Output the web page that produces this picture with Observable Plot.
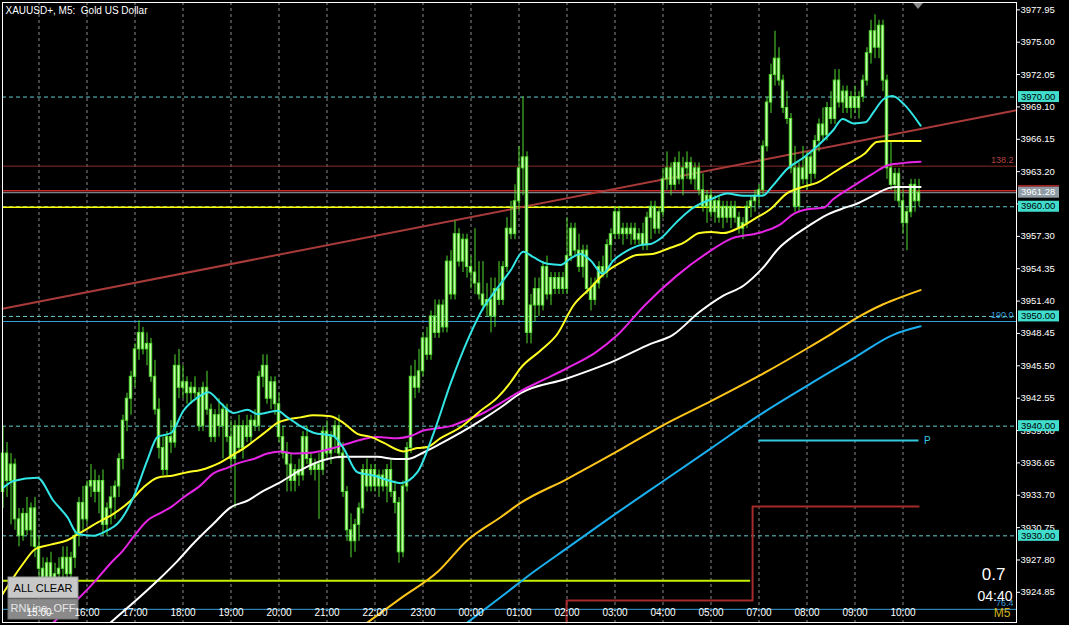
<!DOCTYPE html>
<html><head><meta charset="utf-8">
<script src="https://cdn.jsdelivr.net/npm/d3@7"></script>
<script src="https://cdn.jsdelivr.net/npm/@observablehq/plot@0.6"></script>
<style>
html,body{margin:0;padding:0;background:#000;}
#wrap{position:relative;width:1069px;height:625px;overflow:hidden;background:#000;}
svg text{white-space:pre;}
</style></head><body><div id="wrap"></div>
<script>
// ---------- DATA ----------
const title = "XAUUSD+, M5:  Gold US Dollar";
const firstBar = -9; // bar index of first candle (0 = 15:00)
const opens = [3934.0,3937.5,3935.0,3936.5,3931.5,3930.0,3932.0,3930.5,3932.5,3929.0,3927.0,3926.0,3927.5,3926.0,3926.5,3927.0,3928.0,3926.5,3928.0,3930.0,3933.0,3931.5,3934.5,3935.0,3934.0,3935.0,3931.0,3932.5,3933.5,3934.5,3937.0,3940.5,3942.5,3944.5,3947.0,3948.5,3947.0,3947.5,3944.5,3941.5,3938.0,3936.0,3939.0,3938.5,3945.5,3943.5,3944.0,3943.0,3943.5,3943.0,3940.0,3943.5,3941.5,3939.0,3941.0,3940.0,3941.5,3939.0,3937.0,3940.0,3938.0,3940.0,3939.0,3940.5,3940.0,3944.5,3945.5,3942.5,3944.0,3942.0,3939.0,3937.5,3936.5,3935.0,3936.0,3935.5,3939.0,3937.0,3936.0,3936.5,3936.0,3939.5,3937.5,3939.0,3940.0,3937.5,3934.0,3930.5,3929.5,3931.0,3932.5,3936.0,3934.5,3936.0,3934.5,3935.5,3934.5,3936.0,3934.0,3933.0,3928.5,3934.5,3938.0,3944.5,3943.5,3945.0,3948.0,3946.5,3950.0,3948.5,3951.0,3949.0,3955.0,3952.0,3957.5,3955.0,3957.0,3954.5,3954.0,3953.0,3952.0,3951.0,3951.5,3950.0,3952.5,3951.5,3954.5,3958.0,3957.5,3960.5,3963.5,3964.5,3948.5,3951.0,3952.5,3951.0,3954.5,3952.0,3953.5,3952.5,3953.5,3952.5,3955.5,3958.0,3956.0,3954.5,3956.0,3952.5,3951.5,3953.0,3954.5,3954.0,3956.5,3957.5,3959.5,3957.5,3958.0,3957.5,3958.0,3957.0,3957.5,3956.5,3959.0,3960.0,3958.0,3959.5,3962.5,3963.5,3962.0,3964.0,3962.5,3963.5,3964.0,3962.5,3963.5,3961.5,3960.0,3961.0,3959.5,3960.5,3959.0,3960.0,3959.0,3960.0,3959.0,3958.0,3958.5,3960.0,3960.5,3961.0,3961.5,3965.5,3969.5,3972.0,3973.5,3971.5,3969.0,3968.0,3963.5,3960.0,3963.5,3962.5,3964.5,3963.0,3966.0,3967.5,3966.5,3969.0,3968.0,3971.5,3969.5,3970.5,3969.0,3970.0,3969.0,3970.0,3971.5,3974.0,3976.0,3974.5,3976.5,3971.5,3963.5,3962.0,3963.0,3960.5,3958.5,3959.5,3962.0,3960.5];
const highs = [3940.0,3938.5,3937.5,3937.0,3932.5,3932.5,3933.5,3933.0,3933.5,3930.0,3928.0,3928.0,3928.5,3927.5,3928.0,3929.0,3929.0,3928.5,3930.5,3933.5,3934.5,3935.0,3936.5,3936.0,3935.5,3936.0,3933.0,3934.5,3935.0,3937.5,3941.0,3943.0,3945.0,3947.5,3949.6,3949.0,3948.5,3948.0,3946.0,3942.5,3939.0,3939.5,3940.5,3946.5,3947.0,3945.5,3944.5,3944.0,3944.5,3943.5,3944.0,3945.0,3942.0,3941.5,3942.5,3942.0,3942.0,3940.5,3940.5,3941.0,3940.5,3941.0,3941.0,3941.5,3945.0,3946.5,3946.5,3944.5,3944.5,3943.0,3940.0,3938.5,3937.5,3936.5,3937.0,3939.5,3940.0,3937.5,3937.0,3937.5,3940.0,3940.5,3939.5,3940.5,3941.0,3938.5,3934.5,3932.0,3931.5,3933.0,3936.5,3937.0,3936.5,3936.5,3936.0,3936.0,3936.5,3937.0,3935.0,3933.5,3935.0,3938.5,3945.5,3946.0,3947.0,3948.5,3949.0,3950.5,3951.5,3951.5,3951.5,3955.5,3956.0,3958.7,3958.0,3957.5,3957.5,3955.5,3958.0,3955.0,3955.0,3953.0,3953.5,3953.5,3955.0,3955.0,3959.0,3960.5,3962.0,3965.5,3970.0,3965.0,3952.0,3953.5,3953.5,3955.0,3955.5,3954.0,3954.0,3954.0,3954.0,3959.0,3958.5,3958.5,3957.5,3956.5,3956.5,3953.5,3953.5,3955.0,3955.5,3957.0,3958.0,3960.0,3960.0,3958.5,3958.5,3958.5,3958.5,3958.0,3958.5,3959.5,3960.5,3960.5,3960.0,3963.5,3965.0,3964.0,3964.5,3965.0,3964.5,3965.0,3964.5,3964.0,3964.0,3963.0,3961.5,3961.5,3961.0,3961.0,3960.5,3960.5,3960.5,3960.5,3959.5,3959.0,3960.5,3961.0,3961.5,3962.0,3966.0,3970.0,3973.0,3976.0,3974.5,3972.0,3970.5,3968.5,3965.5,3964.0,3965.5,3965.0,3965.0,3966.5,3968.0,3969.0,3969.5,3970.5,3972.5,3972.5,3971.0,3971.0,3970.5,3971.0,3970.5,3972.0,3974.5,3977.0,3977.5,3977.0,3977.0,3972.0,3966.0,3963.5,3963.5,3961.5,3960.0,3962.5,3962.5,3962.5];
const lows = [3932.5,3933.5,3931.0,3930.5,3929.0,3929.5,3930.0,3929.0,3928.0,3926.0,3925.5,3925.0,3925.5,3924.5,3925.5,3926.0,3925.0,3925.5,3927.0,3929.0,3930.5,3931.0,3933.5,3933.0,3932.0,3930.0,3930.0,3931.0,3931.5,3933.5,3936.0,3939.5,3941.0,3943.5,3946.0,3946.5,3945.5,3944.0,3941.0,3937.0,3935.5,3935.5,3937.5,3938.0,3942.5,3942.5,3942.0,3942.0,3942.5,3939.5,3939.5,3941.0,3938.5,3938.5,3939.0,3937.0,3938.5,3936.0,3932.5,3937.5,3937.0,3938.5,3938.5,3939.5,3939.5,3943.5,3942.0,3941.5,3941.0,3938.5,3937.0,3934.0,3934.0,3934.0,3934.5,3935.0,3936.5,3935.5,3935.0,3931.5,3935.5,3937.0,3936.5,3937.5,3937.0,3933.5,3929.5,3928.0,3928.5,3929.5,3932.0,3934.0,3934.0,3934.0,3933.5,3934.0,3933.0,3933.5,3932.0,3927.5,3928.0,3934.0,3937.5,3942.5,3943.0,3944.5,3946.0,3946.0,3948.0,3948.0,3948.5,3948.5,3951.5,3951.5,3954.5,3954.0,3953.5,3952.5,3952.0,3951.5,3950.5,3950.0,3948.5,3949.0,3951.0,3951.0,3954.0,3957.0,3957.0,3959.5,3961.0,3947.5,3947.5,3949.5,3950.0,3950.5,3951.5,3951.0,3952.0,3952.0,3952.0,3952.0,3955.0,3955.5,3954.0,3953.5,3952.0,3950.5,3951.0,3952.5,3953.5,3953.5,3955.0,3957.0,3957.0,3956.5,3957.0,3956.5,3956.5,3956.5,3956.0,3956.0,3957.0,3957.5,3957.5,3959.0,3961.5,3961.0,3961.5,3962.0,3961.0,3962.5,3962.0,3961.5,3961.0,3959.5,3958.5,3959.0,3958.5,3958.5,3958.0,3958.5,3958.0,3958.5,3957.5,3957.0,3958.0,3959.0,3959.5,3960.0,3961.0,3965.0,3968.5,3971.0,3971.0,3968.5,3967.5,3963.0,3959.5,3959.5,3962.0,3961.5,3962.0,3962.5,3965.0,3966.0,3966.0,3967.5,3967.5,3969.0,3968.5,3968.5,3968.0,3968.5,3968.0,3969.5,3971.0,3973.0,3973.5,3973.5,3970.5,3962.5,3961.5,3960.5,3960.0,3957.5,3956.0,3959.0,3959.5,3960.0];
const closes = [3937.5,3935.0,3936.5,3931.5,3930.0,3932.0,3930.5,3932.5,3929.0,3927.0,3926.0,3927.5,3926.0,3926.5,3927.0,3928.0,3926.5,3928.0,3930.0,3933.0,3931.5,3934.5,3935.0,3934.0,3935.0,3931.0,3932.5,3933.5,3934.5,3937.0,3940.5,3942.5,3944.5,3947.0,3948.5,3947.0,3947.5,3944.5,3941.5,3938.0,3936.0,3939.0,3938.5,3945.5,3943.5,3944.0,3943.0,3943.5,3943.0,3940.0,3943.5,3941.5,3939.0,3941.0,3940.0,3941.5,3939.0,3937.0,3940.0,3938.0,3940.0,3939.0,3940.5,3940.0,3944.5,3945.5,3942.5,3944.0,3942.0,3939.0,3937.5,3936.5,3935.0,3936.0,3935.5,3939.0,3937.0,3936.0,3936.5,3936.0,3939.5,3937.5,3939.0,3940.0,3937.5,3934.0,3930.5,3929.5,3931.0,3932.5,3936.0,3934.5,3936.0,3934.5,3935.5,3934.5,3936.0,3934.0,3933.0,3928.5,3934.5,3938.0,3944.5,3943.5,3945.0,3948.0,3946.5,3950.0,3948.5,3951.0,3949.0,3955.0,3952.0,3957.5,3955.0,3957.0,3954.5,3954.0,3953.0,3952.0,3951.0,3951.5,3950.0,3952.5,3951.5,3954.5,3958.0,3957.5,3960.5,3963.5,3964.5,3948.5,3951.0,3952.5,3951.0,3954.5,3952.0,3953.5,3952.5,3953.5,3952.5,3955.5,3958.0,3956.0,3954.5,3956.0,3952.5,3951.5,3953.0,3954.5,3954.0,3956.5,3957.5,3959.5,3957.5,3958.0,3957.5,3958.0,3957.0,3957.5,3956.5,3959.0,3960.0,3958.0,3959.5,3962.5,3963.5,3962.0,3964.0,3962.5,3963.5,3964.0,3962.5,3963.5,3961.5,3960.0,3961.0,3959.5,3960.5,3959.0,3960.0,3959.0,3960.0,3959.0,3958.0,3958.5,3960.0,3960.5,3961.0,3961.5,3965.5,3969.5,3972.0,3973.5,3971.5,3969.0,3968.0,3963.5,3960.0,3963.5,3962.5,3964.5,3963.0,3966.0,3967.5,3966.5,3969.0,3968.0,3971.5,3969.5,3970.5,3969.0,3970.0,3969.0,3970.0,3971.5,3974.0,3976.0,3974.5,3976.5,3971.5,3963.5,3962.0,3963.0,3960.5,3958.5,3959.5,3962.0,3960.5,3961.3];

// moving averages: [bar index, price]
const maCyan = [[-8.9,3934.4],[-6.4,3935.0],[-0.4,3935.3],[3.6,3933.2],[7.1,3931.7],[9.6,3930.2],[13.6,3930.0],[17.1,3930.5],[19.6,3931.1],[23.6,3933.5],[27.1,3936.9],[29.6,3939.0],[33.1,3939.4],[36.1,3941.4],[39.6,3942.6],[42.4,3943.1],[45.4,3942.1],[48.6,3941.2],[52.1,3941.5],[54.6,3941.1],[59.6,3941.4],[62.1,3940.8],[65.4,3940.0],[68.6,3939.4],[73.6,3939.1],[76.1,3938.0],[79.6,3935.8],[83.6,3935.5],[87.9,3935.0],[90.4,3934.8],[94.6,3935.8],[98.6,3939.3],[102.9,3943.9],[107.1,3947.8],[111.1,3950.8],[113.6,3952.1],[117.9,3954.2],[121.1,3955.9],[123.6,3955.4],[127.1,3954.8],[130.4,3954.7],[132.9,3955.3],[135.4,3955.7],[137.9,3955.1],[140.9,3953.9],[143.6,3955.1],[147.1,3956.0],[150.4,3956.5],[152.9,3956.6],[155.4,3957.1],[159.4,3958.6],[163.1,3959.8],[168.1,3960.7],[172.1,3961.2],[176.1,3961.0],[180.9,3961.0],[183.4,3961.9],[186.9,3963.4],[191.6,3964.6],[195.1,3965.7],[198.6,3967.0],[200.9,3968.0],[203.6,3967.6],[206.6,3967.7],[208.6,3968.6],[211.1,3969.8],[213.4,3970.1],[216.1,3969.4],[220.4,3967.4]];
const maYellow = [[-9.6,3924.4],[-6.4,3926.2],[-3.9,3927.5],[-0.9,3928.8],[2.9,3929.2],[7.1,3929.6],[10.4,3930.3],[14.6,3931.2],[18.6,3932.0],[22.9,3933.2],[26.1,3934.4],[29.6,3935.3],[33.6,3935.5],[37.1,3935.8],[40.4,3936.0],[42.9,3936.3],[45.4,3936.7],[48.6,3937.4],[52.1,3938.2],[54.6,3938.9],[57.1,3939.6],[59.6,3940.3],[62.1,3940.6],[65.4,3940.8],[68.6,3941.0],[72.9,3940.9],[76.1,3940.3],[79.6,3939.3],[83.1,3939.0],[86.1,3938.5],[91.1,3937.7],[94.6,3938.0],[97.1,3938.1],[100.4,3938.9],[105.4,3939.9],[110.4,3941.4],[114.6,3942.6],[117.9,3944.0],[120.4,3945.3],[125.4,3946.9],[129.6,3948.4],[133.6,3951.0],[137.6,3952.5],[141.6,3954.0],[145.4,3954.9],[149.4,3955.6],[153.4,3955.7],[157.4,3956.2],[161.1,3956.7],[165.1,3957.6],[168.1,3957.7],[171.1,3957.6],[175.1,3958.1],[178.9,3958.9],[182.9,3959.8],[186.9,3961.2],[190.9,3961.8],[194.6,3962.2],[198.6,3963.1],[202.6,3964.0],[206.6,3964.9],[209.4,3965.9],[212.4,3966.0],[220.4,3966.0]];
const maMagenta = [[3.6,3922.1],[14.1,3925.9],[17.9,3927.5],[21.1,3928.7],[23.6,3929.9],[27.1,3931.4],[30.4,3932.1],[32.9,3932.6],[36.1,3933.5],[40.4,3934.6],[43.6,3935.7],[47.1,3936.2],[50.4,3936.7],[53.6,3937.0],[57.1,3937.5],[60.4,3937.7],[63.6,3937.5],[68.6,3937.6],[73.6,3938.0],[77.1,3938.4],[82.1,3938.9],[84.6,3939.0],[89.6,3938.9],[92.9,3939.1],[96.1,3939.6],[99.6,3939.8],[102.9,3940.0],[107.1,3940.6],[111.1,3941.2],[115.4,3942.1],[120.4,3943.2],[126.6,3944.3],[132.1,3945.3],[139.1,3946.7],[144.6,3948.3],[151.4,3951.0],[159.4,3953.7],[167.1,3955.8],[173.1,3957.1],[179.9,3957.6],[184.9,3958.3],[188.9,3959.4],[192.6,3959.8],[196.1,3959.9],[198.6,3960.7],[203.6,3961.9],[208.4,3963.0],[212.4,3963.8],[216.4,3964.0],[220.4,3964.1]];
const maWhite = [[17.9,3922.1],[29.6,3925.9],[34.6,3927.7],[38.6,3929.3],[43.6,3931.1],[47.9,3932.6],[52.1,3933.2],[56.1,3934.1],[60.4,3934.9],[65.4,3936.0],[72.1,3937.0],[76.1,3937.2],[84.6,3937.2],[89.1,3937.0],[92.1,3937.0],[96.1,3937.6],[100.4,3938.4],[105.4,3939.4],[110.4,3940.5],[115.4,3941.7],[120.4,3943.0],[131.6,3944.3],[144.1,3946.0],[152.9,3947.5],[158.4,3948.3],[165.1,3950.4],[171.1,3951.9],[176.1,3952.8],[180.9,3954.4],[184.9,3956.2],[188.9,3957.4],[192.6,3958.3],[196.6,3959.2],[200.6,3959.8],[204.6,3960.3],[208.4,3961.0],[212.4,3961.7],[214.4,3961.8],[220.4,3961.8]];
const maGold = [[82.1,3922.1],[90.4,3924.3],[99.9,3926.8],[107.1,3929.6],[115.4,3931.7],[120.4,3933.0],[132.1,3935.2],[144.1,3937.6],[156.1,3940.1],[168.1,3942.3],[180.1,3944.6],[192.1,3947.1],[197.6,3948.3],[204.6,3949.9],[210.4,3951.0],[214.4,3951.6],[220.4,3952.4]];
const maBlue = [[107.1,3922.1],[115.4,3924.4],[123.6,3926.7],[132.1,3928.9],[144.1,3932.0],[156.1,3935.0],[168.1,3938.0],[180.1,3941.0],[192.1,3943.7],[204.1,3946.3],[213.4,3948.3],[220.4,3949.1]];

// objects on the chart
const roundLevels = [3970, 3960, 3950, 3940, 3930];
const trendLine = [[-9.125, 3950.7], [244.375, 3968.8]];
const fibLevel = 3963.7, fibText = "138.2";
const redLevel = 3961.45;
const bidPrice = 3961.28;
const yellowLevel = {y: 3959.95, x1: -9.125, x2: 177.9};
const limeLevel = {y: 3925.9, x1: -9.125, x2: 177.9};
const blueLevels = [{y: 3949.54, label: "190.0"}, {y: 3923.3, label: "76.4"}];
const pLevel = {y: 3938.7, x1: 180, x2: 220, label: "P"};
const stepLine = [[131.9, 3922.1], [131.9, 3924.1], [178.4, 3924.1], [178.4, 3932.67], [219.9, 3932.67]];

// axes
const hourIdx = [0,12,24,36,48,60,72,84,96,108,120,132,144,156,168,180,192,204,216];
const hourLabels = ["15:00","16:00","17:00","18:00","19:00","20:00","21:00","22:00","23:00","00:00","01:00","02:00","03:00","04:00","05:00","07:00","08:00","09:00","10:00"];
const yTicks = [3977.95,3975.00,3972.05,3969.10,3966.15,3963.20,3960.25,3957.30,3954.35,3951.40,3948.45,3945.50,3942.55,3939.60,3936.65,3933.70,3930.75,3927.80,3924.85];
const spread = "0.7", timer = "04:40", tfText = "M5";

// ---------- CHART ----------
const bars = closes.map((c, k) => ({i: k + firstBar, o: opens[k], h: highs[k], l: lows[k], c}));
const hourMap = new Map(hourIdx.map((d, k) => [d, hourLabels[k]]));
const pt = {x: d => d[0], y: d => d[1]};
const FONT = "'Liberation Sans', Arial, sans-serif";

const chart = Plot.plot({
  width: 1069, height: 625,
  marginLeft: 2, marginRight: 53, marginTop: 2, marginBottom: 3,
  style: {background: "#000", color: "white", fontFamily: FONT, overflow: "visible"},
  x: {type: "linear", domain: [-9.125, 244.375]},
  y: {type: "linear", domain: [3922.10, 3978.62]},
  marks: [
    Plot.ruleX(hourIdx, {stroke: "#8a8a8a", strokeDasharray: "3,3", strokeWidth: 1}),
    Plot.ruleY(roundLevels, {stroke: "#66cccc", strokeDasharray: "4,3", strokeWidth: 1}),
    Plot.ruleY([fibLevel], {stroke: "#8b2a2a", strokeWidth: 1}),
    Plot.ruleY([redLevel], {stroke: "#c42a2a", strokeWidth: 1.5}),
    Plot.ruleY([bidPrice], {stroke: "#9aa4ac", strokeWidth: 1}),
    Plot.ruleY([yellowLevel], {y: "y", x1: "x1", x2: "x2", stroke: "#ffff00", strokeWidth: 1.5}),
    Plot.ruleY([limeLevel], {y: "y", x1: "x1", x2: "x2", stroke: "#c4f000", strokeWidth: 2}),
    Plot.ruleY(blueLevels, {y: "y", stroke: "#3a9fd8", strokeWidth: 1}),
    Plot.ruleY([pLevel], {y: "y", x1: "x1", x2: "x2", stroke: "#33c8e0", strokeWidth: 2}),
    Plot.line(stepLine, {...pt, stroke: "#a52a2a", strokeWidth: 2, curve: "linear"}),
    Plot.line(trendLine, {...pt, stroke: "#a83a3a", strokeWidth: 2}),
    // candles
    Plot.ruleX(bars, {x: "i", y1: "l", y2: "h", stroke: "#4fdc2c", strokeWidth: 1}),
    Plot.rect(bars, {x1: d => d.i - 0.3, x2: d => d.i + 0.3, y1: d => Math.min(d.o, d.c), y2: d => Math.max(d.o, d.c), fill: "#c8f9b0", stroke: "#58e034", strokeWidth: 1}),
    // moving averages
    Plot.line(maBlue, {...pt, stroke: "#1ab0f0", strokeWidth: 2, curve: "monotone-x", clip: true}),
    Plot.line(maGold, {...pt, stroke: "#ffc61a", strokeWidth: 2, curve: "monotone-x", clip: true}),
    Plot.line(maWhite, {...pt, stroke: "#ffffff", strokeWidth: 2, curve: "monotone-x", clip: true}),
    Plot.line(maMagenta, {...pt, stroke: "#e524e5", strokeWidth: 2, curve: "monotone-x", clip: true}),
    Plot.line(maYellow, {...pt, stroke: "#ffff22", strokeWidth: 2, curve: "monotone-x", clip: true}),
    Plot.line(maCyan, {...pt, stroke: "#33e6e6", strokeWidth: 2, curve: "monotone-x", clip: true}),
    // object labels
    Plot.text([fibText], {x: () => 244.375, y: () => fibLevel, dx: -3, dy: -6, textAnchor: "end", fill: "#b04444", fontSize: 9}),
    Plot.text(blueLevels, {x: () => 244.375, y: "y", text: "label", dx: -3, dy: -6, textAnchor: "end", fill: "#3a9fd8", fontSize: 9}),
    Plot.text([pLevel], {x: "x2", y: "y", text: "label", dx: 5, textAnchor: "start", fill: "#33c8e0", fontSize: 10}),
    // axes
    Plot.axisY(yTicks, {anchor: "right", tickSize: 3, tickPadding: 1, tickFormat: d => d.toFixed(2), fontSize: 9.5, color: "white", label: null}),
    Plot.axisX(hourIdx, {anchor: "bottom", tickSize: 0, tickPadding: 0, tickFormat: d => hourMap.get(d), fontSize: 10, color: "white", label: null, dy: -14}),
    Plot.frame({stroke: "white", strokeWidth: 1}),
    // title and info texts
    Plot.text([title], {frameAnchor: "top-left", dx: 3, dy: 4, lineAnchor: "top", fill: "white", fontSize: 10}),
    Plot.text([spread], {frameAnchor: "bottom-right", dx: -11, dy: -43, lineAnchor: "bottom", textAnchor: "end", fill: "white", fontSize: 17}),
    Plot.text([timer], {frameAnchor: "bottom-right", dx: -4, dy: -22, lineAnchor: "bottom", textAnchor: "end", fill: "white", fontSize: 14}),
    Plot.text([tfText], {frameAnchor: "bottom-right", dx: -6, dy: -6, lineAnchor: "bottom", textAnchor: "end", fill: "#d2b21e", fontSize: 12})
  ]
});

document.getElementById("wrap").appendChild(chart);

// price boxes on the right axis, placed with the plot's y scale
const ys = chart.scale("y");
const svg = d3.select(chart);
const boxes = svg.append("g").attr("text-anchor", "start");
function priceBox(v, bg, fg, top) {
  const yy = ys.apply(v);
  if (top) boxes.append("rect").attr("x", 1018).attr("y", yy - 7).attr("width", 41).attr("height", 1.5).attr("fill", top);
  boxes.append("rect").attr("x", 1018).attr("y", yy - 5.5).attr("width", 41).attr("height", 11).attr("fill", bg);
  boxes.append("text").attr("x", 1021).attr("y", yy).attr("dy", "0.34em").attr("fill", fg)
    .attr("text-anchor", "start").attr("font-size", 9.5).attr("font-family", FONT).text(v.toFixed(2));
}
roundLevels.forEach(v => priceBox(v, "#40dccc", "#000"));
priceBox(bidPrice, "#8e9aa4", "#fff", "#c42a2a");

// buttons (UI decorations), under the time labels
const xLabels = svg.select('[aria-label="x-axis tick label"]').node();
const btn = svg.insert("g", () => xLabels).attr("text-anchor", "middle");
btn.append("rect").attr("x", 8).attr("y", 577).attr("width", 70).attr("height", 21).attr("fill", "#c8c8c8").attr("stroke", "#9a9a9a");
btn.append("text").attr("x", 43).attr("y", 588).attr("dy", "0.35em").attr("font-size", 11).attr("font-family", FONT).attr("fill", "#000").text("ALL CLEAR");
btn.append("rect").attr("x", 8).attr("y", 599).attr("width", 70).attr("height", 20).attr("fill", "#8a8a8a").attr("stroke", "#777");
btn.append("text").attr("x", 43).attr("y", 608).attr("dy", "0.35em").attr("font-size", 11).attr("font-family", FONT).attr("fill", "#e6e6e6").text("RNLine_OFF");
// chart shift marker
svg.append("path").attr("d", "M913,3 L923,3 L918,9 Z").attr("fill", "#8a8a8a");
</script></body></html>
